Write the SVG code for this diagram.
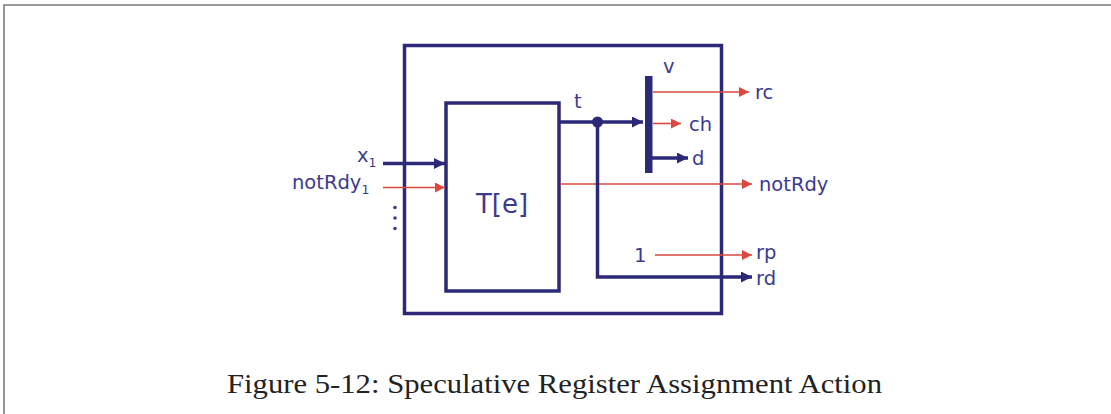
<svg xmlns="http://www.w3.org/2000/svg" width="1111" height="414" viewBox="0 0 1111 414">
<defs>
<marker id="ah-navy" viewBox="0 0 10 10" refX="10" refY="5" markerWidth="12" markerHeight="11" markerUnits="userSpaceOnUse" orient="auto"><path d="M0,0 L10,5 L0,10 z" fill="#2c2a78"/></marker>
<marker id="ah-red" viewBox="0 0 10 10" refX="10" refY="5" markerWidth="12" markerHeight="10" markerUnits="userSpaceOnUse" orient="auto"><path d="M0,0 L10,5 L0,10 z" fill="#d9493e"/></marker>
</defs>
<style>
.box{fill:none;stroke:#2c2a78;stroke-width:3.5}
.navy{fill:none;stroke:#2c2a78;stroke-width:3.5;marker-end:url(#ah-navy)}
.red{fill:none;stroke:#d9493e;stroke-width:1.6;marker-end:url(#ah-red)}
.lbl{font-family:"DejaVu Sans",Verdana,sans-serif;font-size:19.5px;fill:#3c3a8e}
.sub{font-size:12.5px}
.cap{font-family:"Liberation Serif","Times New Roman",serif;font-size:27px;fill:#222}
</style>
<rect width="1111" height="414" fill="#fff"/>
<g id="frame">
<path d="M4,414 L4,5 L1111,5" fill="none" stroke="#7a7a7a" stroke-width="1.6"/>
</g>
<g id="outer"><rect class="box" x="404.5" y="45.5" width="317" height="268"/></g>
<g id="te">
<rect class="box" x="446" y="103" width="113" height="188"/>
<text class="lbl" x="502" y="213" text-anchor="middle" style="font-size:26px">T[e]</text>
</g>
<g id="vbar">
<rect x="645" y="76" width="7.5" height="97" fill="#2c2a78"/>
<text class="lbl" x="663" y="73">v</text>
</g>
<g id="connectors">
<line class="navy" x1="383" y1="163.5" x2="445" y2="163.5"/>
<line class="red" x1="383" y1="187.5" x2="445" y2="187.5"/>
<path class="navy" d="M559,122 L643,122"/>
<circle cx="597.5" cy="122" r="5.5" fill="#2c2a78"/>
<line class="red" x1="653" y1="92" x2="749" y2="92"/>
<line class="red" x1="653" y1="123.5" x2="681" y2="123.5"/>
<line class="navy" x1="652" y1="158" x2="688" y2="158"/>
<line class="red" x1="560" y1="184" x2="752" y2="184"/>
<line class="red" x1="655" y1="255" x2="752" y2="255"/>
<path class="navy" d="M597.5,122 L597.5,277 L752,277"/>
</g>
<g id="labels">
<text class="lbl" x="357" y="162">x<tspan class="sub" dy="5">1</tspan></text>
<text class="lbl" x="292" y="189">notRdy<tspan class="sub" dy="5">1</tspan></text>
<g fill="#3c3a8e"><circle cx="395" cy="207.5" r="1.8"/><circle cx="395" cy="218" r="1.8"/><circle cx="395" cy="228.5" r="1.8"/></g>
<text class="lbl" x="574" y="108">t</text>
<text class="lbl" x="755" y="99">rc</text>
<text class="lbl" x="689" y="131">ch</text>
<text class="lbl" x="692" y="165">d</text>
<text class="lbl" x="759" y="191">notRdy</text>
<text class="lbl" x="634" y="262">1</text>
<text class="lbl" x="756" y="259">rp</text>
<text class="lbl" x="756" y="285">rd</text>
</g>
<g id="caption"><text class="cap" x="227" y="393" textLength="655" lengthAdjust="spacingAndGlyphs">Figure 5-12: Speculative Register Assignment Action</text></g>
</svg>
